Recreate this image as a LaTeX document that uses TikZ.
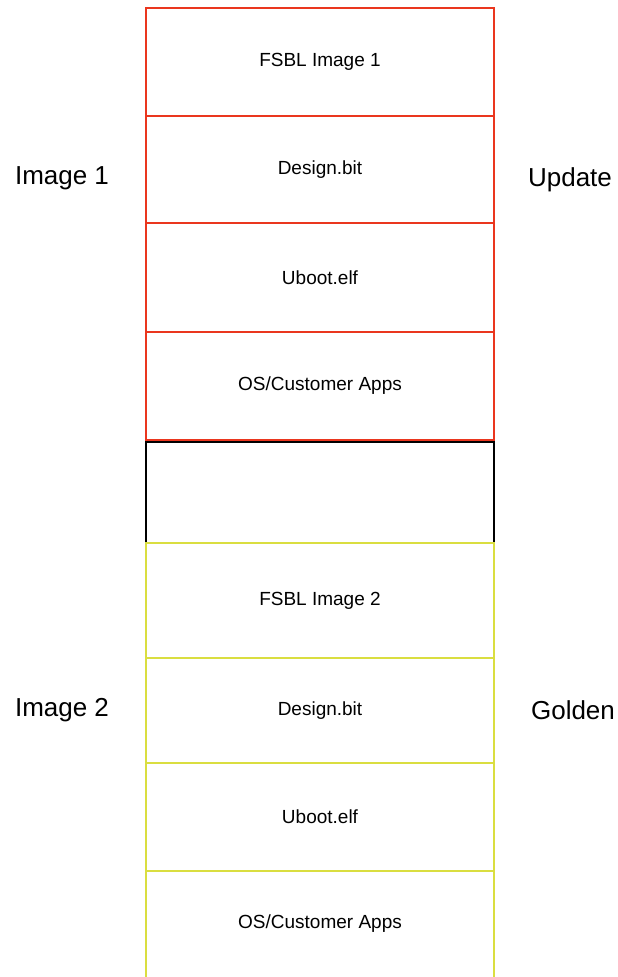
\documentclass[tikz,border=0pt]{standalone}
\usepackage{fontspec}
\setmainfont{Liberation Sans}
\definecolor{redline}{RGB}{234,54,30}
\definecolor{yelline}{RGB}{218,222,64}
\begin{document}
\begin{tikzpicture}[x=1bp,y=-1bp,
  cell/.style={draw, line width=2.5bp, minimum width=348bp, inner sep=0pt, outer sep=0pt, font=\fontsize{19bp}{21bp}\selectfont},
  redcell/.style={cell, draw=redline},
  yelcell/.style={cell, draw=yelline},
  side/.style={font=\fontsize{26bp}{28bp}\selectfont, inner sep=0pt}]
\useasboundingbox (0,0) rectangle (618,977);
% red cells
\node[redcell, minimum height=108bp] (r1) at (320,62) {FSBL Image 1};
\node[redcell, minimum height=107bp] (r2) at (320,169.5) {Design.bit};
\node[redcell, minimum height=109bp] (r3) at (320,277.5) {Uboot.elf};
\node[redcell, minimum height=108bp] (r4) at (320,386) {OS/Customer Apps};
% black empty cell
\node[cell, draw=black, minimum height=101bp] (b) at (320,492.5) {};
% yellow cells
\node[yelcell, minimum height=115bp] (y1) at (320,600.5) {FSBL Image 2};
\node[yelcell, minimum height=105bp] (y2) at (320,710.5) {Design.bit};
\node[yelcell, minimum height=108bp] (y3) at (320,817) {Uboot.elf};
\node[font=\fontsize{19bp}{21bp}\selectfont, inner sep=0pt] (y4) at (320,924) {OS/Customer Apps};
\coordinate (y4bl) at (y3.south west |- 0,990);
\coordinate (y4br) at (y3.south east |- 0,990);
\draw[yelline, line width=2.5bp] (y4bl) -- (y3.south west) -- (y3.south east) -- (y4br);
% side labels
\node[side] (l1) at (62,178) {Image 1};
\node[side] (u) at (570,180) {Update};
\node[side] (l2) at (62,710) {Image 2};
\node[side] (g) at (573,710) {Golden};
\end{tikzpicture}
\end{document}
